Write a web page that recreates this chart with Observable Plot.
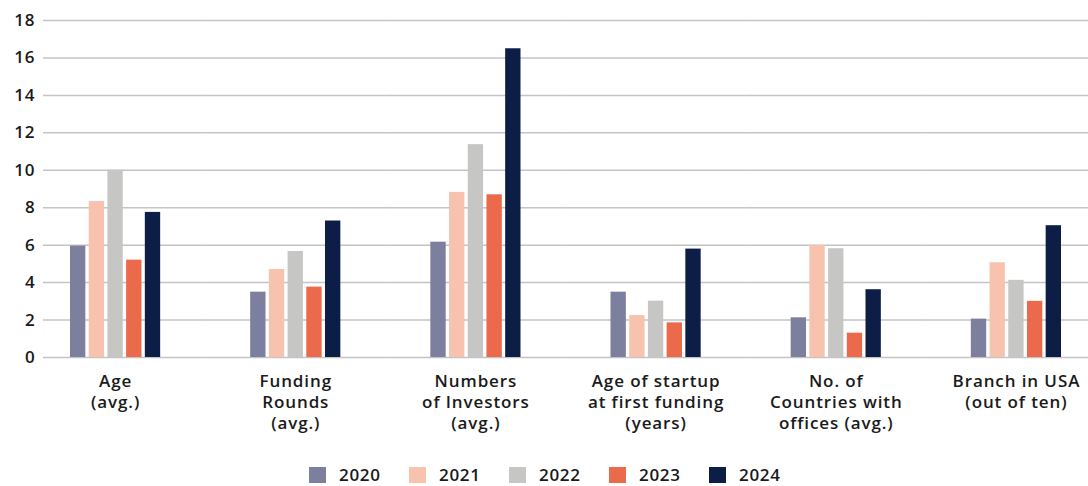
<!DOCTYPE html>
<html>
<head>
<meta charset="utf-8">
<script src="https://cdn.jsdelivr.net/npm/d3@7"></script>
<script src="https://cdn.jsdelivr.net/npm/@observablehq/plot@0.6"></script>
<style>
  body { margin: 0; background: #ffffff; font-family: "Open Sans", sans-serif; }
  #chart { width: 1088px; height: 440px; overflow: hidden; }
  #legend { display: flex; justify-content: flex-start; align-items: center; margin-top: 26px; padding-left: 309px; height: 18px; }
  .item { display: flex; align-items: center; gap: 13px; width: 100px; height: 18px; line-height: 18px; font-size: 17px; font-weight: 600; letter-spacing: 0.7px; color: #1a1a1a; }
  .sw { width: 17px; height: 16px; display: inline-block; }
</style>
</head>
<body>
<div id="chart"></div>
<div id="legend"></div>
<script>
const categories = ["Age", "Funding Rounds", "Numbers of Investors", "Age of startup at first funding", "No. of Countries with offices", "Branch in USA"];
const categoryLabels = ["Age\n(avg.)", "Funding\nRounds\n(avg.)", "Numbers\nof Investors\n(avg.)", "Age of startup\nat first funding\n(years)", "No. of\nCountries with\noffices (avg.)", "Branch in USA\n(out of ten)"];
const years = ["2020", "2021", "2022", "2023", "2024"];
const colors = ["#7d7f9e", "#f8c3ae", "#c6c6c4", "#ec6a4c", "#0d1e46"];
const v2020 = [5.95, 3.49, 6.16, 3.49, 2.12, 2.05];
const v2021 = [8.33, 4.70, 8.82, 2.24, 5.99, 5.06];
const v2022 = [10.0, 5.66, 11.37, 3.01, 5.81, 4.12];
const v2023 = [5.20, 3.76, 8.69, 1.85, 1.30, 3.00];
const v2024 = [7.75, 7.29, 16.49, 5.79, 3.62, 7.04];
const yTicks = [0, 2, 4, 6, 8, 10, 12, 14, 16, 18];

const series = [v2020, v2021, v2022, v2023, v2024];
const data = [];
categories.forEach((c, i) => years.forEach((yr, j) => data.push({category: c, year: yr, value: series[j][i]})));

// grid rows: first facet (starts after the y labels) and the remaining facets
const gridFirst = yTicks.map(t => ({category: categories[0], tick: t}));
const gridRest = [];
categories.slice(1).forEach(c => yTicks.forEach(t => gridRest.push({category: c, tick: t})));

const plot = Plot.plot({
  width: 1088,
  height: 440,
  marginTop: 20,
  marginBottom: 83,
  marginLeft: 43,
  marginRight: 0,
  style: {fontFamily: "'Open Sans', sans-serif", fontSize: "17px", color: "#1a1a1a", background: "#ffffff", overflow: "visible", letterSpacing: "0.9px"},
  fx: {domain: categories, range: [25, 1106], padding: 0, round: false, axis: null, label: null},
  x: {domain: years, axis: null, insetLeft: 45, insetRight: 45, paddingInner: 0.18, paddingOuter: 0, round: false},
  y: {domain: [0, 18], axis: null},
  color: {domain: years, range: colors},
  marks: [
    Plot.ruleY(gridFirst, {fx: "category", y: "tick", stroke: "#c4c4c4", strokeWidth: 1.5, insetLeft: 18}),
    Plot.ruleY(gridRest, {fx: "category", y: "tick", stroke: "#c4c4c4", strokeWidth: 1.5}),
    Plot.text(gridFirst, {fx: "category", y: "tick", text: d => String(d.tick), frameAnchor: "left", textAnchor: "end", dx: 10, fontWeight: 600, fontSize: 17, fill: "#1a1a1a"}),
    Plot.barY(data, {fx: "category", x: "year", y: "value", fill: "year"}),
    Plot.text(categories, {fx: d => d, text: (d, i) => categoryLabels[i], frameAnchor: "bottom", lineAnchor: "top", dy: 15, lineHeight: 1.235, fontSize: 17, fontWeight: 600, fill: "#1a1a1a"})
  ]
});
document.getElementById("chart").append(plot);

const legend = document.getElementById("legend");
years.forEach((yr, j) => {
  const item = document.createElement("div");
  item.className = "item";
  const sw = document.createElement("span");
  sw.className = "sw";
  sw.style.background = colors[j];
  const t = document.createElement("span");
  t.textContent = yr;
  item.append(sw, t);
  legend.append(item);
});
</script>
</body>
</html>
